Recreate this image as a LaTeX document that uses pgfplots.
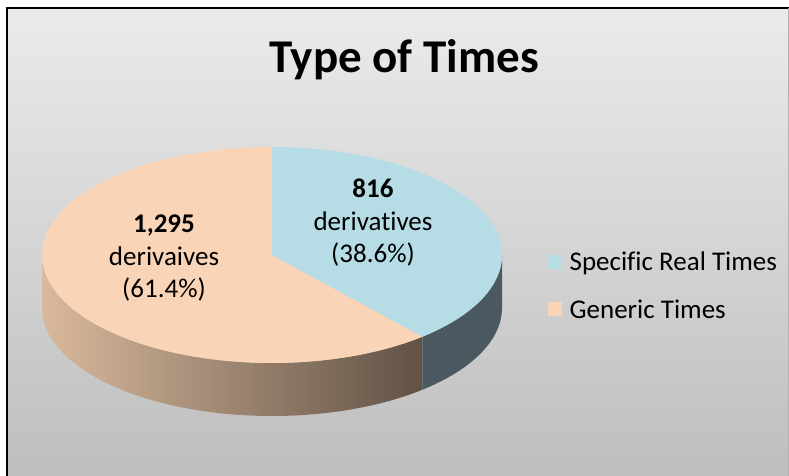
\documentclass[border=0pt]{standalone}
\usepackage{fontspec}
\setmainfont{Carlito}[Ligatures=NoCommon]
\usepackage{pgfplots}
\pgfplotsset{compat=1.18}
\definecolor{peachtop}{HTML}{FAD4B6}
\definecolor{bluetop}{HTML}{B6DCE6}
\definecolor{blueside}{HTML}{4A595F}
\definecolor{peachL}{HTML}{D9B99D}
\definecolor{peachR}{HTML}{615245}
\definecolor{bgtop}{HTML}{EBEBEB}
\definecolor{bgbot}{HTML}{BEBEBE}

% data
\def\vSpec{816}
\def\vGen{1295}
\pgfmathsetmacro\frac{\vSpec/(\vSpec+\vGen)}
\pgfmathsetmacro\sweep{\frac*360}
\pgfmathsetmacro\thB{90-\sweep}
% geometry (pixels)
\def\cx{272}\def\cy{255}\def\ra{230}\def\rb{108}\def\dep{53}
\pgfmathsetmacro\bx{\cx+\ra*cos(\thB)}
\pgfmathsetmacro\by{\cy-\rb*sin(\thB)+\dep}
\pgfmathsetmacro\rx{\cx+\ra}
\pgfmathsetmacro\ry{\cy+\dep}

\begin{document}
\begin{tikzpicture}
\begin{axis}[x=1pt,y=1pt,xmin=0,xmax=789,ymin=0,ymax=476,y dir=reverse,
  hide axis,clip=false,
  legend style={at={(axis description cs:0.690,0.479)},anchor=north west,
    draw=none,fill=none,font=\fontsize{27}{31}\selectfont,row sep=23pt,
    legend cell align=left},
  legend image code/.code={\fill[#1] (0pt,-7pt) rectangle (14pt,7pt);\path (20pt,0pt);},
]
\coordinate (TL) at (axis cs:0,0);
\coordinate (BR) at (axis cs:789,476);
\fill[white] (axis cs:0,0) rectangle (axis cs:789,476);
\fill[bgbot] (axis cs:7,8) rectangle (axis cs:789,476);
\fill[top color=bgtop,bottom color=bgbot] (axis cs:7,8) rectangle (axis cs:789,476);
\draw[line width=2.5pt] (axis cs:7,476) -- (axis cs:7,8) -- (axis cs:789,8);
\draw[line width=0.6pt,gray!60] (axis cs:788,8) -- (axis cs:788,476);

% sides
\addplot[forget plot,draw=none,left color=peachL,right color=peachR,
  domain=-180:\thB,samples=120,variable=\t]
  ({\cx+\ra*cos(\t)},{\cy-\rb*sin(\t)}) -- (axis cs:\bx,\by)
  arc[start angle=\thB,end angle=-180,x radius=\ra pt,y radius=\rb pt] -- cycle;
\addplot[forget plot,draw=none,fill=blueside,
  domain=\thB:0,samples=60,variable=\t]
  ({\cx+\ra*cos(\t)},{\cy-\rb*sin(\t)}) -- (axis cs:\rx,\ry)
  arc[start angle=0,end angle=\thB,x radius=\ra pt,y radius=\rb pt] -- cycle;
% top faces
\addplot[forget plot,draw=none,fill=peachtop,domain=-270:\thB,samples=180,variable=\t]
  ({\cx+\ra*cos(\t)},{\cy-\rb*sin(\t)}) -- (axis cs:\cx,\cy) -- cycle;
\addplot[forget plot,draw=none,fill=bluetop,domain=\thB:90,samples=100,variable=\t]
  ({\cx+\ra*cos(\t)},{\cy-\rb*sin(\t)}) -- (axis cs:\cx,\cy) -- cycle;

\addlegendimage{fill=bluetop,draw=none}
\addlegendentry{Specific Real Times}
\addlegendimage{fill=peachtop,draw=none}
\addlegendentry{Generic Times}

\node[anchor=base,font=\fontsize{47}{52}\selectfont\bfseries] at (axis cs:404,73) {Type of Times};

\node[anchor=base,font=\fontsize{27}{31}\selectfont\bfseries] at (axis cs:373,197) {816};
\node[anchor=base,font=\fontsize{27}{31}\selectfont] at (axis cs:373,230) {derivatives};
\node[anchor=base,font=\fontsize{27}{31}\selectfont] at (axis cs:373,262) {(38.6\%)};
\node[anchor=base,font=\fontsize{27}{31}\selectfont\bfseries] at (axis cs:164,232) {1,295};
\node[anchor=base,font=\fontsize{27}{31}\selectfont] at (axis cs:164,265) {derivaives};
\node[anchor=base,font=\fontsize{27}{31}\selectfont] at (axis cs:164,297) {(61.4\%)};
\end{axis}
\pgfresetboundingbox
\useasboundingbox (TL) rectangle (BR);
\end{tikzpicture}
\end{document}
